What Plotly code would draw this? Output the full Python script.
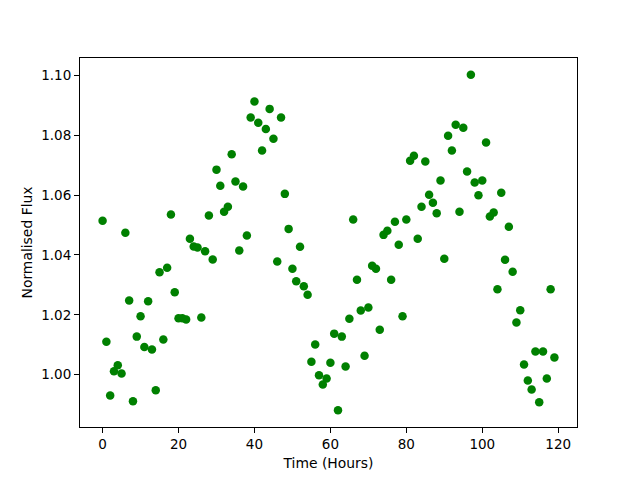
import plotly.graph_objects as go

hours = list(range(120))
flux = [
    1.0514, 1.0110, 0.9930, 1.0011, 1.0031, 1.0004, 1.0474, 1.0248, 0.9911, 1.0127,
    1.0195, 1.0092, 1.0245, 1.0084, 0.9948, 1.0342, 1.0117, 1.0357, 1.0535, 1.0275,
    1.0188, 1.0188, 1.0184, 1.0454, 1.0428, 1.0425, 1.0191, 1.0412, 1.0532, 1.0385,
    1.0685, 1.0631, 1.0544, 1.0561, 1.0736, 1.0645, 1.0415, 1.0629, 1.0465, 1.0859,
    1.0913, 1.0842, 1.0749, 1.0821, 1.0888, 1.0788, 1.0378, 1.0859, 1.0604, 1.0487,
    1.0354, 1.0312, 1.0427, 1.0295, 1.0267, 1.0043, 1.0101, 0.9998, 0.9967, 0.9987,
    1.0040, 1.0137, 0.9881, 1.0127, 1.0027, 1.0187, 1.0518, 1.0317, 1.0214, 1.0063,
    1.0224, 1.0364, 1.0354, 1.0150, 1.0467, 1.0481, 1.0317, 1.0511, 1.0434, 1.0195,
    1.0518, 1.0715, 1.0731, 1.0454, 1.0561, 1.0712, 1.0601, 1.0574, 1.0539, 1.0649,
    1.0387, 1.0798, 1.0749, 1.0835, 1.0544, 1.0825, 1.0679, 1.1002, 1.0642, 1.0599,
    1.0649, 1.0776, 1.0528, 1.0542, 1.0285, 1.0608, 1.0384, 1.0494, 1.0344, 1.0174,
    1.0215, 1.0034, 0.9980, 0.9950, 1.0077, 0.9908, 1.0077, 0.9987, 1.0285, 1.0057,
]

x_ticks = [0, 20, 40, 60, 80, 100, 120]
y_ticks = [1.00, 1.02, 1.04, 1.06, 1.08, 1.10]

fig = go.Figure()
fig.add_trace(go.Scatter(
    x=hours, y=flux, mode="markers",
    marker=dict(color="#008000", size=8.5, line=dict(width=0)),
    showlegend=False,
))

tick_font = dict(family="DejaVu Sans", size=13.5, color="black")
title_font = dict(family="DejaVu Sans", size=13.9, color="black")

axis_common = dict(
    showline=True, mirror=True, linecolor="black", linewidth=1,
    ticks="outside", ticklen=5, tickwidth=1, tickcolor="black",
    showgrid=False, zeroline=False, automargin=False,
    tickfont=tick_font,
)

# page body has an 8px margin, so the figure is sized to fit inside the window
fig.update_layout(
    width=624, height=464,
    margin=dict(l=72, r=55, t=50, b=45),
    paper_bgcolor="white", plot_bgcolor="white",
    font=tick_font,
    xaxis=dict(range=[-5.95, 124.95], tickvals=x_ticks,
               title=dict(text="Time (Hours)", standoff=7, font=title_font), **axis_common),
    yaxis=dict(range=[0.9825, 1.1058], tickvals=y_ticks, tickformat=".2f",
               title=dict(text="Normalised Flux", standoff=5, font=title_font), **axis_common),
)

fig.write_html("out.html")
